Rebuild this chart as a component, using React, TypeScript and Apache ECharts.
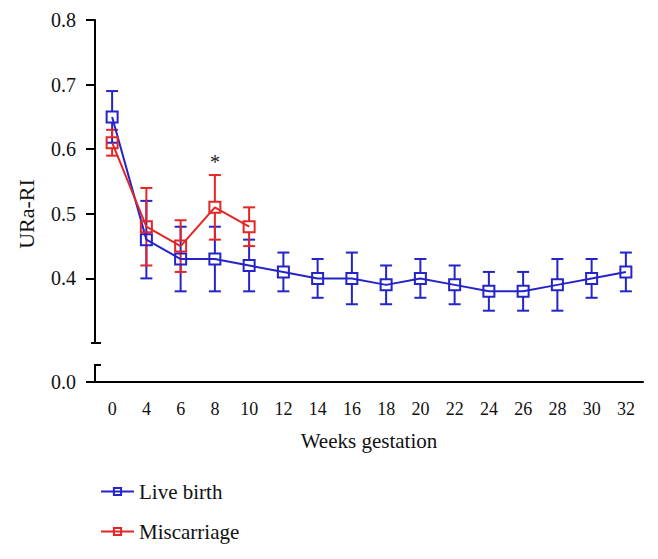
import React, { useEffect, useRef } from 'react';
import * as echarts from 'echarts';

const weeks = ['0', '4', '6', '8', '10', '12', '14', '16', '18', '20', '22', '24', '26', '28', '30', '32'];
const liveMean = [0.65, 0.46, 0.43, 0.43, 0.42, 0.41, 0.40, 0.40, 0.39, 0.40, 0.39, 0.38, 0.38, 0.39, 0.40, 0.41];
const liveLow = [0.61, 0.40, 0.38, 0.38, 0.38, 0.38, 0.37, 0.36, 0.36, 0.37, 0.36, 0.35, 0.35, 0.35, 0.37, 0.38];
const liveHigh = [0.69, 0.52, 0.48, 0.48, 0.46, 0.44, 0.43, 0.44, 0.42, 0.43, 0.42, 0.41, 0.41, 0.43, 0.43, 0.44];
const miscMean = [0.61, 0.48, 0.45, 0.51, 0.48];
const miscLow = [0.59, 0.42, 0.41, 0.46, 0.45];
const miscHigh = [0.63, 0.54, 0.49, 0.56, 0.51];
const yTicks = [0.4, 0.5, 0.6, 0.7, 0.8];
const sigWeek = '8';
const sigValue = 0.58;

const BLUE = '#2424c8';
const RED = '#e32626';
const FONT = "'Liberation Serif', serif";
const LEFT = 95;
const WIDTH = 548;
const TOP = 20;
const MAIN_H = 323;
const LOW_TOP = 365;
const LOW_H = 17;
const SYM = 11;

function errSeries(name: string, color: string, mean: number[], low: number[], high: number[], z: number) {
  return {
    type: 'custom',
    name,
    xAxisIndex: 0,
    yAxisIndex: 0,
    z,
    encode: { x: 0, y: [1, 2] },
    data: mean.map((m, i) => [i, low[i], high[i], m]),
    renderItem: (_params: any, api: any) => {
      const x = api.value(0);
      const pl = api.coord([x, api.value(1)]);
      const ph = api.coord([x, api.value(2)]);
      const pm = api.coord([x, api.value(3)]);
      const half = SYM / 2;
      const cap = 6;
      const st = { stroke: color, lineWidth: 2 };
      return {
        type: 'group',
        children: [
          { type: 'line', shape: { x1: pm[0], y1: pm[1] - half, x2: ph[0], y2: ph[1] }, style: st },
          { type: 'line', shape: { x1: pm[0], y1: pm[1] + half, x2: pl[0], y2: pl[1] }, style: st },
          { type: 'line', shape: { x1: ph[0] - cap, y1: ph[1], x2: ph[0] + cap, y2: ph[1] }, style: st },
          { type: 'line', shape: { x1: pl[0] - cap, y1: pl[1], x2: pl[0] + cap, y2: pl[1] }, style: st },
        ],
      };
    },
  };
}

export default function App() {
  const ref = useRef<HTMLDivElement>(null);
  useEffect(() => {
    if (!ref.current) return;
    const chart = echarts.init(ref.current, null, { renderer: 'svg' });
    const axisLineStyle = { color: '#000', width: 2 };
    chart.setOption({
      animation: false,
      backgroundColor: '#fff',
      textStyle: { fontFamily: FONT },
      grid: [
        { left: LEFT, top: TOP, width: WIDTH, height: MAIN_H },
        { left: LEFT, top: LOW_TOP, width: WIDTH, height: LOW_H },
      ],
      xAxis: [
        { gridIndex: 0, type: 'category', data: weeks, boundaryGap: true, show: false },
        {
          gridIndex: 1,
          type: 'category',
          data: weeks,
          boundaryGap: true,
          axisLine: { lineStyle: axisLineStyle },
          axisTick: { alignWithLabel: true, length: 8, lineStyle: { width: 2, color: '#000' } },
          axisLabel: { fontSize: 18, fontFamily: FONT, color: '#111', margin: 18 },
          name: 'Weeks gestation',
          nameLocation: 'middle',
          nameGap: 48,
          nameTextStyle: { fontSize: 21, fontFamily: FONT, color: '#111' },
        },
      ],
      yAxis: [
        {
          gridIndex: 0,
          type: 'value',
          min: 0.3,
          max: 0.8,
          interval: 0.1,
          splitLine: { show: false },
          axisLine: { show: true, lineStyle: axisLineStyle },
          axisTick: { show: true, length: 9, customValues: yTicks, lineStyle: { width: 2, color: '#000' } },
          axisLabel: {
            customValues: yTicks,
            formatter: (v: number) => v.toFixed(1),
            fontSize: 20,
            fontFamily: FONT,
            color: '#111',
            margin: 19,
          },
        },
        {
          gridIndex: 1,
          type: 'value',
          min: 0,
          max: 1,
          interval: 1,
          splitLine: { show: false },
          axisLine: { show: true, lineStyle: axisLineStyle },
          axisTick: { show: true, length: 9, customValues: [0], lineStyle: { width: 2, color: '#000' } },
          axisLabel: {
            customValues: [0],
            formatter: () => '0.0',
            fontSize: 20,
            fontFamily: FONT,
            color: '#111',
            margin: 19,
          },
        },
      ],
      legend: {
        orient: 'vertical',
        left: LEFT,
        top: 476,
        itemWidth: 33,
        itemHeight: 9,
        itemGap: 19,
        data: ['Live birth', 'Miscarriage'],
        textStyle: { fontSize: 21, fontFamily: FONT, color: '#111' },
      },
      graphic: [
        { type: 'line', shape: { x1: 91, y1: TOP + MAIN_H, x2: 101, y2: TOP + MAIN_H }, style: { stroke: '#000', lineWidth: 2 } },
        { type: 'line', shape: { x1: 94, y1: LOW_TOP, x2: 101, y2: LOW_TOP }, style: { stroke: '#000', lineWidth: 2 } },
        {
          type: 'text',
          x: 26,
          y: 214,
          rotation: Math.PI / 2,
          style: { text: 'URa-RI', fontSize: 22, fontFamily: FONT, fill: '#111', align: 'center', verticalAlign: 'middle' },
        },
      ],
      series: [
        errSeries('Live birth err', BLUE, liveMean, liveLow, liveHigh, 2),
        errSeries('Miscarriage err', RED, miscMean, miscLow, miscHigh, 3),
        {
          type: 'line',
          name: 'Live birth',
          xAxisIndex: 0,
          yAxisIndex: 0,
          data: liveMean,
          z: 4,
          symbol: 'rect',
          symbolSize: SYM,
          color: BLUE,
          lineStyle: { color: BLUE, width: 2 },
          itemStyle: { color: 'rgba(255,255,255,0)', borderColor: BLUE, borderWidth: 2 },
        },
        {
          type: 'line',
          name: 'Miscarriage',
          xAxisIndex: 0,
          yAxisIndex: 0,
          data: miscMean,
          z: 5,
          symbol: 'rect',
          symbolSize: SYM,
          color: RED,
          lineStyle: { color: RED, width: 2 },
          itemStyle: { color: 'rgba(255,255,255,0)', borderColor: RED, borderWidth: 2 },
          markPoint: {
            symbol: 'circle',
            symbolSize: 0,
            data: [{ coord: [sigWeek, sigValue] }],
            label: { show: true, formatter: '*', position: 'inside', fontSize: 20, fontFamily: FONT, color: '#222' },
          },
        },
      ],
    });
    return () => chart.dispose();
  }, []);
  return <div ref={ref} style={{ position: 'absolute', left: 0, top: 0, width: 658, height: 559 }} />;
}
